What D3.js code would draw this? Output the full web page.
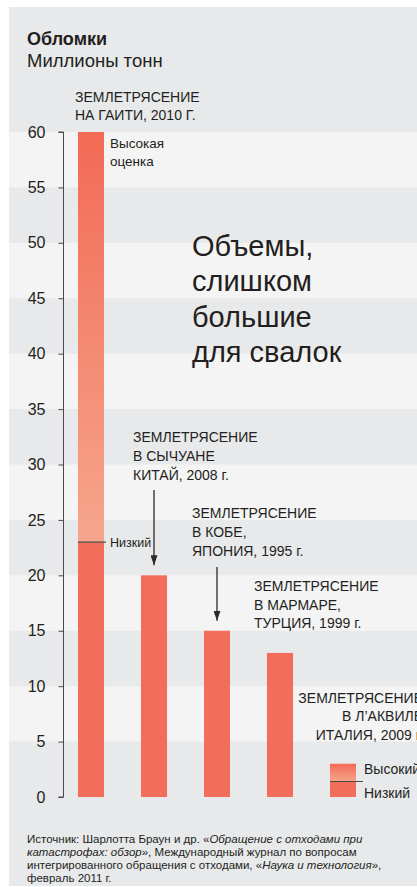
<!DOCTYPE html>
<html lang="ru">
<head>
<meta charset="utf-8">
<script src="https://cdn.jsdelivr.net/npm/d3@7"></script>
<style>
  html, body { margin: 0; padding: 0; background: #ffffff; }
  svg { display: block; font-family: "Liberation Sans", Arial, Helvetica, sans-serif; }
</style>
</head>
<body>
<svg id="chart" width="417" height="887"></svg>
<script>
// Debris volumes after major earthquakes, million tonnes
const quakes = ["Гаити 2010", "Сычуань 2008", "Кобе 1995", "Мармара 1999", "Л’Аквила 2009"];
const highValues = [60, 20, 15, 13, 3];
const lowValues = [23, null, null, null, 1.4];
const yTicks = [0, 5, 10, 15, 20, 25, 30, 35, 40, 45, 50, 55, 60];

const quakeLabels = [
  ["ЗЕМЛЕТРЯСЕНИЕ", "НА ГАИТИ, 2010 Г."],
  ["ЗЕМЛЕТРЯСЕНИЕ", "В СЫЧУАНЕ", "КИТАЙ, 2008 г."],
  ["ЗЕМЛЕТРЯСЕНИЕ", "В КОБЕ,", "ЯПОНИЯ, 1995 г."],
  ["ЗЕМЛЕТРЯСЕНИЕ", "В МАРМАРЕ,", "ТУРЦИЯ, 1999 г."],
  ["ЗЕМЛЕТРЯСЕНИЕ", "В Л’АКВИЛЕ", "ИТАЛИЯ, 2009 г."]
];
const headline = ["Объемы,", "слишком", "большие", "для свалок"];

const svg = d3.select("#chart");
const ink = "#231f20";
const barColor = "#f26e5a";

// panel background
svg.append("rect").attr("x", 9).attr("y", 7).attr("width", 408).attr("height", 879).attr("fill", "#e8e9eb");

const y = d3.scaleLinear().domain([0, 60]).range([797, 132]);
const x = d3.scaleBand().domain(quakes).range([59.5, 374.5]).paddingInner(0.587).paddingOuter(0.2935);

// alternating light bands every 5 units
const bandPairs = d3.pairs(yTicks).filter((p, i) => i % 2 === 1);
svg.append("g").selectAll("rect").data(bandPairs).join("rect")
  .attr("x", 9).attr("width", 408)
  .attr("y", d => y(d[1])).attr("height", d => y(d[0]) - y(d[1]))
  .attr("fill", "#f4f4f4");

// gradient for the range between low and high estimates
const defs = svg.append("defs");
const grad = defs.append("linearGradient").attr("id", "rangeGrad").attr("x1", 0).attr("x2", 0).attr("y1", 0).attr("y2", 1);
grad.append("stop").attr("offset", "0%").attr("stop-color", "#f26a56");
grad.append("stop").attr("offset", "100%").attr("stop-color", "#f6a68c");

const arrowHead = defs.append("marker").attr("id", "arrow")
  .attr("viewBox", "0 0 10 10").attr("refX", 10).attr("refY", 5)
  .attr("markerWidth", 10).attr("markerHeight", 7).attr("markerUnits", "userSpaceOnUse")
  .attr("orient", "auto").attr("preserveAspectRatio", "none");
arrowHead.append("path").attr("d", "M0,0 L10,5 L0,10 Z").attr("fill", "#2a2a2a");

// y axis
const yAxis = d3.axisLeft(y).tickValues(yTicks).tickSize(5).tickPadding(13);
const axisG = svg.append("g").attr("transform", "translate(63.5,0)").call(yAxis);
axisG.select(".domain").attr("stroke", "#4a4a4a").attr("d", `M-5,${y(60)}H0V${y(0)}H-5`);
axisG.selectAll(".tick line").attr("stroke", "#4a4a4a");
axisG.selectAll(".tick text").attr("fill", ink).attr("font-size", 16)
  .attr("font-family", "'Liberation Sans', Arial, sans-serif");

// bars: solid part up to low estimate, gradient part up to high estimate
const bars = quakes.map((q, i) => ({ q, hi: highValues[i], lo: lowValues[i] }));
const barG = svg.append("g");
barG.selectAll("rect.solid").data(bars).join("rect").attr("class", "solid")
  .attr("x", d => x(d.q)).attr("width", x.bandwidth())
  .attr("y", d => y(d.lo ?? d.hi)).attr("height", d => y(0) - y(d.lo ?? d.hi))
  .attr("fill", barColor);
barG.selectAll("rect.range").data(bars.filter(d => d.lo != null)).join("rect").attr("class", "range")
  .attr("x", d => x(d.q)).attr("width", x.bandwidth())
  .attr("y", d => y(d.hi)).attr("height", d => y(d.lo) - y(d.hi))
  .attr("fill", "url(#rangeGrad)");

// low estimate markers
const haiti = bars[0], aquila = bars[4];
svg.append("line").attr("x1", x(haiti.q)).attr("x2", x(haiti.q) + x.bandwidth() + 2)
  .attr("y1", y(haiti.lo)).attr("y2", y(haiti.lo)).attr("stroke", "#4a4a4a").attr("stroke-width", 1.2);
svg.append("line").attr("x1", x(aquila.q)).attr("x2", x(aquila.q) + x.bandwidth() + 7)
  .attr("y1", y(aquila.lo)).attr("y2", y(aquila.lo)).attr("stroke", "#4a4a4a").attr("stroke-width", 1.2);

const txt = (sx, sy, s, size, opts = {}) => svg.append("text")
  .attr("x", sx).attr("y", sy).attr("fill", ink).attr("font-size", size)
  .attr("font-weight", opts.bold ? "bold" : null)
  .attr("text-anchor", opts.anchor || "start").text(s);

// title
txt(27, 45, "Обломки", 18, { bold: true });
txt(27, 67, "Миллионы тонн", 18.5);

// estimate labels on Haiti bar
const hx = x(haiti.q) + x.bandwidth() + 6;
txt(hx, y(haiti.hi) + 16, "Высокая", 13.5);
txt(hx, y(haiti.hi) + 34, "оценка", 13.5);
txt(hx, y(haiti.lo) + 4.5, "Низкий", 12.5);

// legend labels beside L'Aquila bar
txt(364, 774, "Высокий", 14);
txt(364, 798, "Низкий", 14);

// quake annotations
const annot = [
  { x: 75, y: 102, dy: 17.5, anchor: "start" },
  { x: 133, y: 442, dy: 18.8, anchor: "start" },
  { x: 192, y: 518, dy: 19, anchor: "start" },
  { x: 254, y: 591, dy: 18.5, anchor: "start" },
  { x: 423, y: 703, dy: 18.3, anchor: "end" }
];
annot.forEach((a, i) => {
  quakeLabels[i].forEach((line, j) => txt(a.x, a.y + j * a.dy, line, 14, { anchor: a.anchor }));
});

// arrows pointing to Sichuan and Kobe bars
const arrows = [
  { q: quakes[1], v: highValues[1], from: 490 },
  { q: quakes[2], v: highValues[2], from: 567 }
];
svg.append("g").selectAll("line").data(arrows).join("line")
  .attr("x1", d => x(d.q) + x.bandwidth() / 2).attr("x2", d => x(d.q) + x.bandwidth() / 2)
  .attr("y1", d => d.from).attr("y2", d => y(d.v) - 10)
  .attr("stroke", "#2a2a2a").attr("stroke-width", 1.3)
  .attr("marker-end", "url(#arrow)");

// headline
headline.forEach((line, i) => txt(192, 256 + i * 35.3, line, 29));

// source note
const note = svg.append("g").attr("font-size", 11.5).attr("fill", ink);
const noteLines = [
  [["Источник: Шарлотта Браун и др. «", false], ["Обращение с отходами при", true]],
  [["катастрофах: обзор", true], ["», Международный журнал по вопросам", false]],
  [["интегрированного обращения с отходами, «", false], ["Наука и технология", true], ["»,", false]],
  [["февраль 2011 г.", false]]
];
noteLines.forEach((parts, i) => {
  const t = note.append("text").attr("x", 27).attr("y", 843 + i * 13);
  parts.forEach(([s, it]) => t.append("tspan").attr("font-style", it ? "italic" : null).text(s));
});
</script>
</body>
</html>
